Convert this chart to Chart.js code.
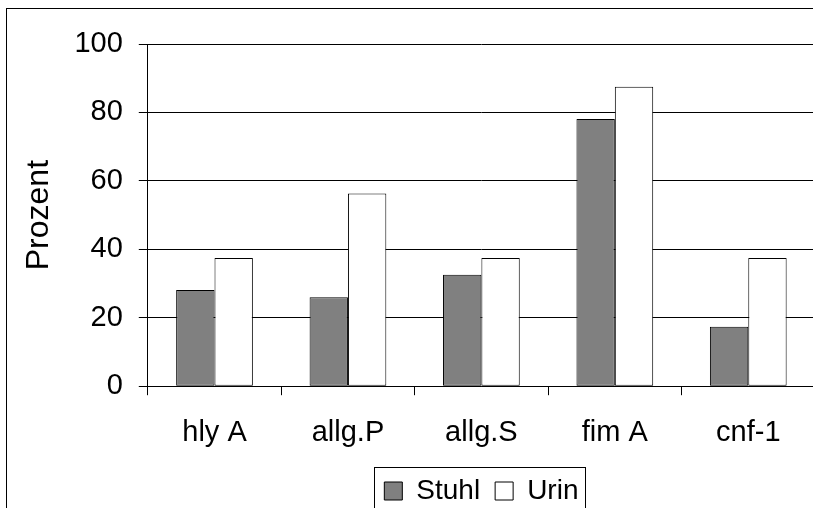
<!DOCTYPE html>
<html>
<head>
<meta charset="utf-8">
<script src="https://cdn.jsdelivr.net/npm/chart.js@4/dist/chart.umd.min.js"></script>
<style>
html, body { margin:0; padding:0; overflow:hidden; background:#fff; width:813px; height:508px; }
#wrap { position:absolute; left:0; top:0; width:815px; height:540px; }
</style>
</head>
<body>
<div id="wrap"><canvas id="c"></canvas></div>
<script>
const categories = ['hly A', 'allg.P', 'allg.S', 'fim A', 'cnf-1'];
const stuhl = [28.1, 26.0, 32.6, 78.1, 17.4];
const urin = [37.5, 56.3, 37.5, 87.5, 37.5];
const seriesNames = ['Stuhl', 'Urin'];
const yMin = 0, yMax = 100, yStep = 20;
const yTitle = 'Prozent';

const FONT = "'Liberation Sans', Arial, sans-serif";

const framePlugin = {
  id: 'frame',
  beforeDraw(chart) {
    const ctx = chart.ctx;
    ctx.save();
    ctx.fillStyle = '#fff';
    ctx.fillRect(0, 0, chart.width, chart.height);
    ctx.strokeStyle = '#000';
    ctx.lineWidth = 1;
    ctx.strokeRect(6.5, 8.5, 3000, 3000);
    ctx.restore();
  },
  afterDraw(chart) {
    const lg = chart.legend;
    if (!lg || !lg.legendHitBoxes || !lg.legendHitBoxes.length) return;
    const hb = lg.legendHitBoxes;
    const first = hb[0], last = hb[hb.length - 1];
    const left = Math.round(first.left - 10) + 0.5;
    const right = Math.round(last.left + last.width + 7) + 0.5;
    const top = Math.round(first.top - 10) + 0.5;
    const ctx = chart.ctx;
    ctx.save();
    ctx.strokeStyle = '#000';
    ctx.lineWidth = 1;
    ctx.strokeRect(left, top, right - left, 500);
    ctx.restore();
  }
};

new Chart(document.getElementById('c'), {
  type: 'bar',
  data: {
    labels: categories,
    datasets: [
      { label: seriesNames[0], data: stuhl, backgroundColor: '#808080', borderColor: '#000', borderWidth: 1, borderSkipped: false },
      { label: seriesNames[1], data: urin, backgroundColor: '#ffffff', borderColor: '#000', borderWidth: 1, borderSkipped: false }
    ]
  },
  options: {
    responsive: true,
    maintainAspectRatio: false,
    animation: false,
    devicePixelRatio: 1,
    layout: { padding: { top: 44, right: 0, bottom: 25, left: 0 } },
    datasets: { bar: { categoryPercentage: 0.575, barPercentage: 1.0 } },
    plugins: {
      tooltip: { enabled: false },
      title: { display: false },
      legend: {
        position: 'bottom',
        fullSize: false,
        align: 'center',
        labels: {
          boxWidth: 18,
          boxHeight: 18,
          padding: 15,
          color: '#000',
          font: { family: FONT, size: 28 }
        }
      }
    },
    scales: {
      x: {
        offset: true,
        afterFit(scale) { scale.height -= 8; },
        grid: { offset: true, drawOnChartArea: false, drawTicks: true, tickLength: 9, color: '#000', lineWidth: 1 },
        border: { display: true, color: '#000', width: 1 },
        ticks: { color: '#000', padding: 20, font: { family: FONT, size: 29 }, maxRotation: 0, autoSkip: false }
      },
      y: {
        min: yMin,
        max: yMax,
        grid: { color: '#000', lineWidth: 1, drawTicks: true, tickLength: 9 },
        border: { display: true, color: '#000', width: 1 },
        ticks: { stepSize: yStep, color: '#000', padding: 16, font: { family: FONT, size: 29 } },
        title: { display: true, text: yTitle, color: '#000', font: { family: FONT, size: 32 }, padding: { top: 20, bottom: 0 } }
      }
    }
  },
  plugins: [framePlugin]
});
</script>
</body>
</html>
